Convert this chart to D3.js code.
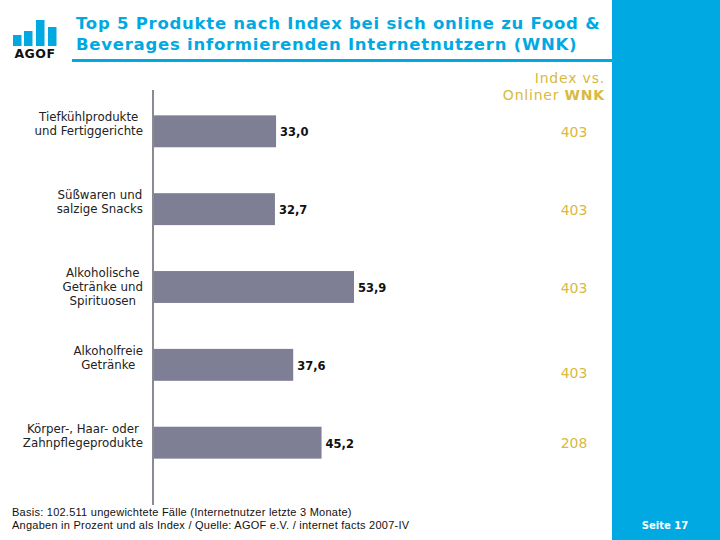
<!DOCTYPE html>
<html><head><meta charset="utf-8">
<script src="https://cdn.jsdelivr.net/npm/d3@7"></script>
<style>html,body{margin:0;padding:0;background:#fff;}svg{display:block;}
.v{font-family:"DejaVu Sans",Verdana,sans-serif;}
.a{font-family:"Liberation Sans",Arial,sans-serif;}
</style>
</head><body>
<script>
const categories = [
  ["Tiefkühlprodukte", "und Fertiggerichte"],
  ["Süßwaren und", "salzige Snacks"],
  ["Alkoholische", "Getränke und", "Spirituosen"],
  ["Alkoholfreie", "Getränke"],
  ["Körper-, Haar- oder", "Zahnpflegeprodukte"]
];
const values = [33.0, 32.7, 53.9, 37.6, 45.2];
const indexValues = [403, 403, 403, 403, 208];
const titleLines = ["Top 5 Produkte nach Index bei sich online zu Food &", "Beverages informierenden Internetnutzern (WNK)"];
const footerLines = ["Basis: 102.511 ungewichtete Fälle (Internetnutzer letzte 3 Monate)", "Angaben in Prozent und als Index / Quelle: AGOF e.V. / internet facts 2007-IV"];

const W = 720, H = 540;
const blue = "#00A9E2", gold = "#D9B940", barColor = "#7E7E95";
const svg = d3.select("body").append("svg").attr("width", W).attr("height", H);
svg.append("rect").attr("width", W).attr("height", H).attr("fill", "#fff");

svg.append("rect").attr("x", 612).attr("y", 0).attr("width", 108).attr("height", H).attr("fill", blue);
svg.append("rect").attr("x", 72).attr("y", 59).attr("width", 540).attr("height", 3).attr("fill", blue);

// logo
const logoBars = [[13, 35], [24, 31], [36, 20], [48, 27]];
svg.selectAll(".logo").data(logoBars).join("rect")
  .attr("x", d => d[0]).attr("y", d => d[1]).attr("width", 8.5).attr("height", d => 46 - d[1]).attr("fill", blue);
svg.append("text").attr("class", "v").attr("x", 35).attr("y", 58).attr("text-anchor", "middle")
  .attr("font-weight", "bold").attr("font-size", 12.5).attr("letter-spacing", 0.5).attr("fill", "#111").text("AGOF");

// title
svg.append("text").attr("class", "v").attr("font-weight", "bold")
  .attr("font-size", 16.5).attr("letter-spacing", 0.75).attr("fill", blue)
  .selectAll("tspan").data(titleLines).join("tspan")
  .attr("x", 76).attr("y", (d, i) => 29 + i * 21).text(d => d);

const x = d3.scaleLinear().domain([0, 53.9]).range([153, 354]);
const y = d3.scaleBand().domain(d3.range(values.length)).range([92, 482]).paddingInner(0.59).paddingOuter(0.3);

svg.selectAll(".bar").data(values).join("rect")
  .attr("x", x(0)).attr("y", (d, i) => y(i)).attr("width", d => x(d) - x(0))
  .attr("height", y.bandwidth()).attr("fill", barColor);

svg.append("line").attr("x1", 153).attr("x2", 153).attr("y1", 90).attr("y2", 505)
  .attr("stroke", "#8a8a95").attr("stroke-width", 2);

svg.selectAll(".val").data(values).join("text").attr("class", "v")
  .attr("x", d => x(d) + 4).attr("y", (d, i) => y(i) + y.bandwidth() / 2 + 5)
  .attr("font-weight", "bold").attr("font-size", 11.5)
  .attr("fill", "#111").text(d => d.toFixed(1).replace(".", ","));

// category labels: block right-aligned at 143, lines centred within block
categories.forEach((lines, i) => {
  const g = svg.append("text").attr("class", "v").attr("font-size", 11.8).attr("fill", "#222")
    .attr("text-anchor", "middle");
  const n = lines.length;
  const ts = g.selectAll("tspan").data(lines).join("tspan")
    .attr("y", (d, j) => y(i) + y.bandwidth() / 2 + 4 + (j - (n - 1) / 2) * 14 - (n === 3 ? 0 : 7))
    .text(d => d);
  let maxW = 0;
  ts.each(function () { maxW = Math.max(maxW, this.getComputedTextLength()); });
  ts.attr("x", 143 - maxW / 2);
});

// index header
svg.append("text").attr("class", "v").attr("text-anchor", "end")
  .attr("font-size", 14).attr("letter-spacing", 0.8).attr("fill", gold)
  .selectAll("tspan").data([["Index vs.", ""], ["Onliner ", "WNK"]]).join("tspan")
  .attr("x", 605).attr("y", (d, i) => 83 + i * 17)
  .each(function (d) {
    d3.select(this).append("tspan").text(d[0]);
    if (d[1]) d3.select(this).append("tspan").attr("font-weight", "bold").text(d[1]);
  });

const idxOffset = [0, 0, 0, 8, 0];
svg.selectAll(".idx").data(indexValues).join("text").attr("class", "v")
  .attr("x", 574).attr("y", (d, i) => y(i) + y.bandwidth() / 2 + 5.5 + idxOffset[i])
  .attr("text-anchor", "middle").attr("font-size", 14).attr("fill", gold).text(d => d);

svg.append("text").attr("class", "a").attr("font-size", 11).attr("letter-spacing", 0.25).attr("fill", "#111")
  .selectAll("tspan").data(footerLines).join("tspan")
  .attr("x", 12).attr("y", (d, i) => 516 + i * 13).text(d => d);

svg.append("text").attr("class", "v").attr("x", 665).attr("y", 529).attr("text-anchor", "middle")
  .attr("font-weight", "bold").attr("font-size", 10).attr("fill", "#fff").text("Seite 17");
</script>
</body></html>
